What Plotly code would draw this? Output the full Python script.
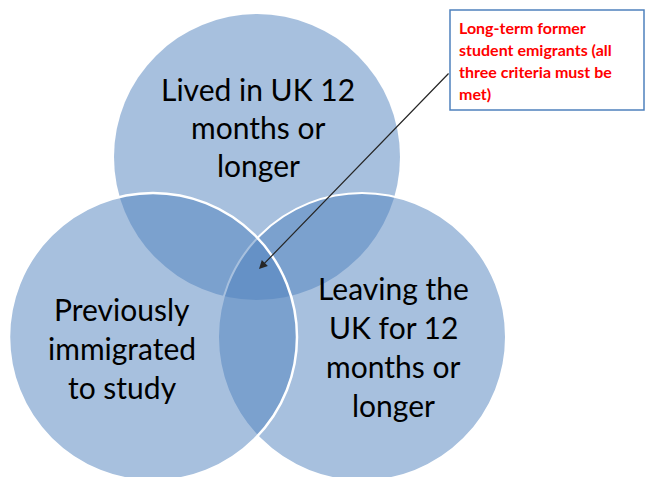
import plotly.graph_objects as go

# Text content of the diagram
top_label = ["Lived in UK 12", "months or", "longer"]
left_label = ["Previously", "immigrated", "to study"]
right_label = ["Leaving the", "UK for 12", "months or", "longer"]
callout_lines = ["Long-term former", "student emigrants (all", "three criteria must be", "met)"]

W, H = 647, 477
fill = "rgba(79,129,189,0.5)"

fig = go.Figure()
fig.add_trace(go.Scatter(x=[], y=[], hoverinfo="skip", showlegend=False))

# circles: (cx, cy, r, outline width)
circles = [(257, 157, 143, 0), (362, 337, 144, 2), (153, 337, 144, 2.5)]
shapes = []
for cx, cy, r, lw in circles:
    shapes.append(dict(type="circle", xref="x", yref="y",
                       x0=cx - r, x1=cx + r, y0=cy - r, y1=cy + r,
                       fillcolor=fill,
                       line=dict(color="white", width=lw) if lw else dict(width=0),
                       layer="above"))
shapes.append(dict(type="rect", xref="x", yref="y", x0=450, x1=644, y0=10, y1=110,
                   fillcolor="white", line=dict(color="#4F81BD", width=1.5), layer="above"))

annotations = []
font_main = dict(family="Lato", size=30, color="black")

def add_block(lines, xc, y_first, step):
    for i, t in enumerate(lines):
        annotations.append(dict(text=t, x=xc, y=y_first + i * step, xref="x", yref="y",
                                showarrow=False, xanchor="center", yanchor="middle",
                                font=font_main))

add_block(top_label, 258, 89, 38)
add_block(left_label, 122, 309, 39)
add_block(right_label, 393, 288, 39)

for i, t in enumerate(callout_lines):
    annotations.append(dict(text="<b>" + t + "</b>", x=457, y=27 + i * 22, xref="x", yref="y",
                            showarrow=False, xanchor="left", yanchor="middle",
                            font=dict(family="Lato", size=16, color="#FF0000")))

annotations.append(dict(text="", x=259, y=269, xref="x", yref="y",
                        ax=450, ay=72, axref="x", ayref="y",
                        showarrow=True, arrowhead=2, arrowsize=1.4, arrowwidth=1.2,
                        arrowcolor="#262626", standoff=0, startstandoff=0))

fig.update_layout(
    width=W, height=H,
    margin=dict(l=0, r=0, t=0, b=0),
    paper_bgcolor="white", plot_bgcolor="white",
    xaxis=dict(range=[0, W], visible=False, fixedrange=True),
    yaxis=dict(range=[H, 0], visible=False, fixedrange=True),
    shapes=shapes, annotations=annotations, showlegend=False,
)

fig.write_html("out.html", config={"displayModeBar": False},
               post_script="document.body.style.margin='0';document.body.style.overflow='hidden';")
